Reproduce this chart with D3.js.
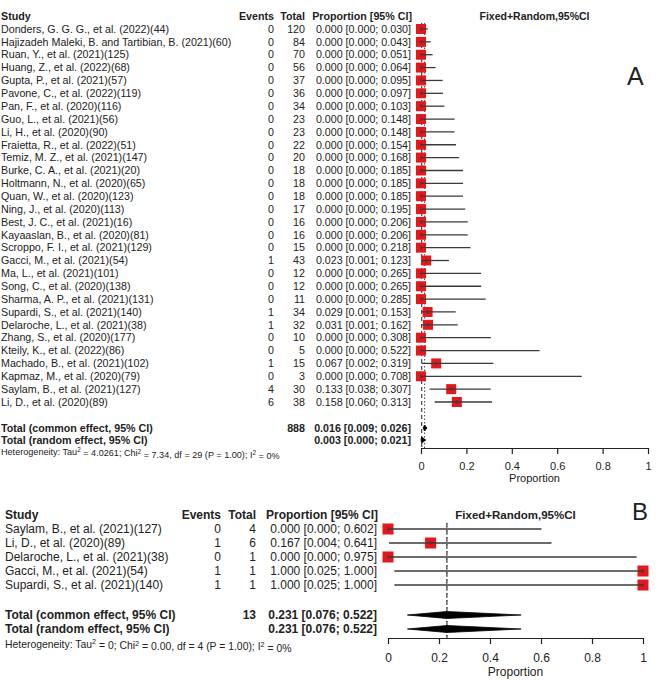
<!DOCTYPE html>
<html><head><meta charset="utf-8">
<script src="https://cdn.jsdelivr.net/npm/d3@7/dist/d3.min.js"></script>
<style>
html,body{margin:0;padding:0;background:#fff;}
svg text{font-family:"Liberation Sans",Arial,Helvetica,sans-serif;fill:#222;}
</style></head>
<body><svg id="chart" width="666" height="682"></svg>
<script>
// ---------- Panel A data ----------
const studiesA = [
 "Donders, G. G. G., et al. (2022)(44)",
 "Hajizadeh Maleki, B. and Tartibian, B. (2021)(60)",
 "Ruan, Y., et al. (2021)(125)",
 "Huang, Z., et al. (2022)(68)",
 "Gupta, P., et al. (2021)(57)",
 "Pavone, C., et al. (2022)(119)",
 "Pan, F., et al. (2020)(116)",
 "Guo, L., et al. (2021)(56)",
 "Li, H., et al. (2020)(90)",
 "Fraietta, R., et al. (2022)(51)",
 "Temiz, M. Z., et al. (2021)(147)",
 "Burke, C. A., et al. (2021)(20)",
 "Holtmann, N., et al. (2020)(65)",
 "Quan, W., et al. (2020)(123)",
 "Ning, J., et al. (2020)(113)",
 "Best, J. C., et al. (2021)(16)",
 "Kayaaslan, B., et al. (2020)(81)",
 "Scroppo, F. I., et al. (2021)(129)",
 "Gacci, M., et al. (2021)(54)",
 "Ma, L., et al. (2021)(101)",
 "Song, C., et al. (2020)(138)",
 "Sharma, A. P., et al. (2021)(131)",
 "Supardi, S., et al. (2021)(140)",
 "Delaroche, L., et al. (2021)(38)",
 "Zhang, S., et al. (2020)(177)",
 "Kteily, K., et al. (2022)(86)",
 "Machado, B., et al. (2021)(102)",
 "Kapmaz, M., et al. (2020)(79)",
 "Saylam, B., et al. (2021)(127)",
 "Li, D., et al. (2020)(89)"
];
const eventsA = [0,0,0,0,0,0,0,0,0,0,0,0,0,0,0,0,0,0,1,0,0,0,1,1,0,0,1,0,4,6];
const totalsA = [120,84,70,56,37,36,34,23,23,22,20,18,18,18,17,16,16,15,43,12,12,11,34,32,10,5,15,3,30,38];
const propA   = [0,0,0,0,0,0,0,0,0,0,0,0,0,0,0,0,0,0,0.023,0,0,0,0.029,0.031,0,0,0.067,0,0.133,0.158];
const lowerA  = [0,0,0,0,0,0,0,0,0,0,0,0,0,0,0,0,0,0,0.001,0,0,0,0.001,0.001,0,0,0.002,0,0.038,0.060];
const upperA  = [0.030,0.043,0.051,0.064,0.095,0.097,0.103,0.148,0.148,0.154,0.168,0.185,0.185,0.185,0.195,0.206,0.206,0.218,0.123,0.265,0.265,0.285,0.153,0.162,0.308,0.522,0.319,0.708,0.307,0.313];
const pooledA = {common:{n:888,est:0.016,lo:0.009,hi:0.026}, random:{est:0.003,lo:0.000,hi:0.021}};
const hetA = {tau:"4.0261", chi:"7.34", df:"29", p:"1.00", i2:"0%"};

// ---------- Panel B data ----------
const studiesB = [
 "Saylam, B., et al. (2021)(127)",
 "Li, D., et al. (2020)(89)",
 "Delaroche, L., et al. (2021)(38)",
 "Gacci, M., et al. (2021)(54)",
 "Supardi, S., et al. (2021)(140)"
];
const eventsB = [0,1,0,1,1];
const totalsB = [4,6,1,1,1];
const propB   = [0.000,0.167,0.000,1.000,1.000];
const lowerB  = [0.000,0.004,0.000,0.025,0.025];
const upperB  = [0.602,0.641,0.975,1.000,1.000];
const pooledB = {common:{n:13,est:0.231,lo:0.076,hi:0.522}, random:{est:0.231,lo:0.076,hi:0.522}};
const hetB = {tau:"0", chi:"0.00", df:"4", p:"1.00", i2:"0%"};

const tickValues = [0,0.2,0.4,0.6,0.8,1];
const tickLabels = ["0","0.2","0.4","0.6","0.8","1"];

const svg = d3.select("#chart");
const fmt = d3.format(".3f");
const RED = "#e5171b", LINE = "#3a3a3a";

function drawPanel(g, o){
  const n = o.studies.length;
  const x = d3.scaleLinear().domain([0,1]).range(o.xRange);
  const y = d3.scaleLinear().domain([0,n-1]).range(o.yRows);
  const fs = o.fs;
  // header
  const hdr = g.append("g").attr("font-weight","bold").attr("font-size",fs);
  hdr.append("text").attr("x",o.xStudy).attr("y",o.yHeader).attr("dy","0.35em").text("Study");
  hdr.append("text").attr("x",o.xEvents).attr("y",o.yHeader).attr("dy","0.35em").attr("text-anchor","end").text("Events");
  hdr.append("text").attr("x",o.xTotal).attr("y",o.yHeader).attr("dy","0.35em").attr("text-anchor","end").text("Total");
  hdr.append("text").attr("x",o.xProp+1).attr("y",o.yHeader).attr("dy","0.35em").attr("text-anchor","end").text("Proportion [95% CI]");
  g.append("text").attr("x",(o.xRange[0]+o.xRange[1])/2).attr("y",o.yHeader).attr("dy","0.35em")
    .attr("text-anchor","middle").attr("font-weight","bold").attr("font-size",o.titleFs).text("Fixed+Random,95%CI");

  // rows text
  const rows = g.append("g").attr("font-size",fs);
  o.studies.forEach((s,i)=>{
    const yy = y(i);
    rows.append("text").attr("x",o.xStudy).attr("y",yy).attr("dy","0.35em").text(s);
    rows.append("text").attr("x",o.xEvents).attr("y",yy).attr("dy","0.35em").attr("text-anchor","end").text(o.events[i]);
    rows.append("text").attr("x",o.xTotal).attr("y",yy).attr("dy","0.35em").attr("text-anchor","end").text(o.totals[i]);
    rows.append("text").attr("x",o.xProp).attr("y",yy).attr("dy","0.35em").attr("text-anchor","end")
      .text(`${fmt(o.prop[i])} [${fmt(o.lower[i])}; ${fmt(o.upper[i])}]`);
  });

  // reference lines
  const yTop = o.yRows[0]-6;
  g.append("line").attr("x1",x(o.pooled.common.est)).attr("x2",x(o.pooled.common.est))
    .attr("y1",yTop).attr("y2",o.yAxis).attr("stroke","#444").attr("stroke-width",1).attr("stroke-dasharray","1.5,2");
  g.append("line").attr("x1",x(o.pooled.random.est)).attr("x2",x(o.pooled.random.est))
    .attr("y1",yTop).attr("y2",o.yAxis).attr("stroke","#444").attr("stroke-width",1.2).attr("stroke-dasharray","4,3");

  // squares + CI
  o.studies.forEach((s,i)=>{
    const yy = y(i), h=o.sq;
    g.append("rect").attr("x",x(o.prop[i])-h/2).attr("y",yy-h/2).attr("width",h).attr("height",h).attr("fill",RED);
    g.append("line").attr("x1",x(o.lower[i])).attr("x2",x(o.upper[i])).attr("y1",yy).attr("y2",yy)
      .attr("stroke",LINE).attr("stroke-width",1.3);
    g.append("line").attr("x1",x(o.prop[i])).attr("x2",x(o.prop[i])).attr("y1",yy-2).attr("y2",yy+2)
      .attr("stroke",LINE).attr("stroke-width",1);
  });

  // pooled rows
  const tot = g.append("g").attr("font-size",fs).attr("font-weight","bold");
  const pc = o.pooled.common, pr = o.pooled.random;
  tot.append("text").attr("x",o.xStudy).attr("y",o.yCommon).attr("dy","0.35em").text("Total (common effect, 95% CI)");
  tot.append("text").attr("x",o.xTotal).attr("y",o.yCommon).attr("dy","0.35em").attr("text-anchor","end").text(pc.n);
  tot.append("text").attr("x",o.xProp).attr("y",o.yCommon).attr("dy","0.35em").attr("text-anchor","end").text(`${fmt(pc.est)} [${fmt(pc.lo)}; ${fmt(pc.hi)}]`);
  tot.append("text").attr("x",o.xStudy).attr("y",o.yRandom).attr("dy","0.35em").text("Total (random effect, 95% CI)");
  tot.append("text").attr("x",o.xProp).attr("y",o.yRandom).attr("dy","0.35em").attr("text-anchor","end").text(`${fmt(pr.est)} [${fmt(pr.lo)}; ${fmt(pr.hi)}]`);
  [[pc,o.yCommon],[pr,o.yRandom]].forEach(([p,yy])=>{
    const hh=o.dia/2;
    g.append("polygon").attr("points",[[x(p.lo),yy],[x(p.est),yy-hh],[x(p.hi),yy],[x(p.est),yy+hh]].map(d=>d.join(",")).join(" "))
      .attr("fill","#000").attr("stroke","#000").attr("stroke-width",0.8);
  });

  // heterogeneity
  const h = o.het;
  const ht = g.append("text").attr("x",o.xStudy).attr("y",o.yHet).attr("dy","0.35em").attr("font-size",o.hetFs).attr("fill","#333");
  const sup = (t)=>ht.append("tspan").attr("font-size",o.hetFs*0.7).attr("dy","-0.45em").text(t);
  const nrm = (t)=>ht.append("tspan").attr("dy","0.45em").text(t);
  ht.append("tspan").text("Heterogeneity: Tau");
  sup("2"); nrm(` = ${h.tau}; Chi`); sup("2"); nrm(` = ${h.chi}, df = ${h.df} (P = ${h.p}); I`); sup("2"); nrm(` = ${h.i2}`);

  // axis
  const axis = d3.axisBottom(x).tickValues(tickValues).tickFormat((d,i)=>tickLabels[i])
      .tickSize(6).tickSizeOuter(0).tickPadding(o.tickPad);
  const ag = g.append("g").attr("transform",`translate(0,${o.yAxis})`).call(axis);
  ag.select(".domain").attr("stroke","#222").attr("stroke-width",1.2);
  ag.selectAll(".tick line").attr("stroke","#222").attr("stroke-width",1.2);
  ag.selectAll(".tick text").attr("font-size",o.axisFs).attr("fill","#333")
    .style("font-family","'Liberation Sans',Arial,sans-serif");
  g.append("text").attr("x",(o.xRange[0]+o.xRange[1])/2).attr("y",o.yXlab).attr("dy","0.35em")
    .attr("text-anchor","middle").attr("font-size",o.axisFs).attr("fill","#333").text("Proportion");

  // panel label
  g.append("text").attr("x",o.labelX).attr("y",o.labelY).attr("font-size",o.labelFs)
    .attr("fill","#111").text(o.label);
}

drawPanel(svg.append("g"), {
  studies:studiesA, events:eventsA, totals:totalsA, prop:propA, lower:lowerA, upper:upperA,
  pooled:pooledA, het:hetA,
  xRange:[421,648], yRows:[29,402], yHeader:16, yCommon:428, yRandom:440, yHet:452,
  yAxis:448, tickPad:8, yXlab:478,
  xStudy:1, xEvents:274, xTotal:305, xProp:411,
  fs:10.7, titleFs:10.5, hetFs:9.1, axisFs:11, sq:10, dia:6,
  label:"A", labelX:627, labelY:85, labelFs:25
});
drawPanel(svg.append("g"), {
  studies:studiesB, events:eventsB, totals:totalsB, prop:propB, lower:lowerB, upper:upperB,
  pooled:pooledB, het:hetB,
  xRange:[388,643], yRows:[529,585], yHeader:515, yCommon:615, yRandom:629, yHet:644,
  yAxis:638, tickPad:9, yXlab:672,
  xStudy:5, xEvents:221, xTotal:256, xProp:377,
  fs:12, titleFs:11.5, hetFs:10.4, axisFs:12, sq:11, dia:7,
  label:"B", labelX:632, labelY:520, labelFs:24
});
</script></body></html>
